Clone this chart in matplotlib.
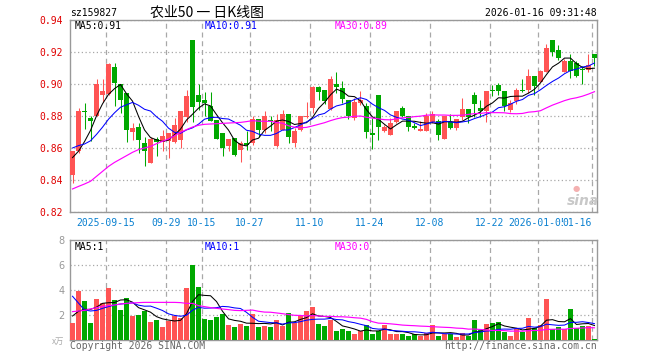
import numpy as np
import matplotlib
matplotlib.use('Agg')
import matplotlib.pyplot as plt

plt.rcParams['font.family'] = ['DejaVu Sans Mono', 'Noto Sans CJK SC']

# 日K数据 (2025-09-05 ~ 2026-01-16, 88 根)
opens = [0.843, 0.858, 0.883, 0.8785, 0.880, 0.893, 0.8935, 0.9105, 0.900, 0.8945,
         0.870, 0.873, 0.863, 0.8506, 0.8656, 0.8635, 0.8646, 0.8635, 0.865, 0.8794,
         0.9277, 0.8933, 0.8898, 0.8865, 0.8777, 0.8694, 0.861, 0.8663, 0.8585, 0.8631,
         0.8631, 0.8781, 0.8715, 0.8773, 0.8615, 0.8715, 0.8815, 0.8631, 0.8715, 0.8794,
         0.885, 0.8983, 0.8965, 0.8846, 0.9002, 0.8975, 0.8902, 0.8788, 0.8881, 0.8865,
         0.8694, 0.8933, 0.8708, 0.8683, 0.876, 0.885, 0.8798, 0.8735, 0.8708, 0.8708,
         0.876, 0.8767, 0.8658, 0.876, 0.8725, 0.8794, 0.8846, 0.8933, 0.885, 0.8829,
         0.8965, 0.8996, 0.8954, 0.884, 0.8892, 0.8965, 0.8965, 0.9052, 0.901, 0.9075,
         0.9277, 0.921, 0.9075, 0.9142, 0.9133, 0.9094, 0.9088, 0.9185]
highs = [0.858, 0.885, 0.888, 0.880, 0.903, 0.903, 0.913, 0.913, 0.900, 0.8945,
         0.8756, 0.8756, 0.867, 0.867, 0.867, 0.8715, 0.8694, 0.8785, 0.8833, 0.8965,
         0.9277, 0.900, 0.8948, 0.8948, 0.8777, 0.8694, 0.8658, 0.8663, 0.8646, 0.8708,
         0.8802, 0.8781, 0.8829, 0.8798, 0.8815, 0.8835, 0.8815, 0.8725, 0.880, 0.8885,
         0.8985, 0.8985, 0.8965, 0.9048, 0.9075, 0.9017, 0.8902, 0.8913, 0.8954, 0.888,
         0.8788, 0.8933, 0.8746, 0.8788, 0.8829, 0.886, 0.8802, 0.8756, 0.8767, 0.8819,
         0.8829, 0.8781, 0.8802, 0.8815, 0.8781, 0.8913, 0.8846, 0.8948, 0.8898, 0.8954,
         0.8996, 0.9006, 0.8954, 0.8902, 0.8975, 0.9031, 0.9094, 0.9052, 0.909, 0.9248,
         0.9277, 0.9246, 0.9156, 0.9185, 0.9146, 0.911, 0.9185, 0.9185]
lows = [0.838, 0.857, 0.872, 0.8645, 0.880, 0.889, 0.893, 0.886, 0.882, 0.864,
        0.865, 0.857, 0.849, 0.8506, 0.855, 0.858, 0.854, 0.863, 0.860, 0.876,
        0.876, 0.884, 0.880, 0.8767, 0.8658, 0.855, 0.858, 0.855, 0.851, 0.859,
        0.862, 0.867, 0.8694, 0.8704, 0.8606, 0.8715, 0.863, 0.8604, 0.8704, 0.879,
        0.882, 0.8898, 0.8877, 0.884, 0.8944, 0.888, 0.878, 0.8777, 0.887, 0.8663,
        0.8594, 0.865, 0.870, 0.8683, 0.8756, 0.8794, 0.8704, 0.872, 0.8704, 0.8704,
        0.8756, 0.865, 0.8658, 0.872, 0.8715, 0.8777, 0.8756, 0.8794, 0.8794, 0.876,
        0.8923, 0.8933, 0.883, 0.8823, 0.8877, 0.8948, 0.8944, 0.8933, 0.901, 0.9075,
        0.9177, 0.915, 0.9075, 0.9038, 0.9044, 0.900, 0.9075, 0.911]
closes = [0.858, 0.883, 0.8825, 0.877, 0.900, 0.8955, 0.9125, 0.9005, 0.890, 0.871,
          0.8727, 0.865, 0.858, 0.8658, 0.864, 0.8677, 0.8694, 0.8746, 0.8833, 0.8927,
          0.8854, 0.8885, 0.8881, 0.8767, 0.8658, 0.8598, 0.8658, 0.8558, 0.8631, 0.862,
          0.8781, 0.8715, 0.8802, 0.8767, 0.8777, 0.8815, 0.8667, 0.8708, 0.8798, 0.8802,
          0.8979, 0.895, 0.8896, 0.9033, 0.8981, 0.8906, 0.8802, 0.8885, 0.8902, 0.8698,
          0.8683, 0.8729, 0.8729, 0.8756, 0.8829, 0.8798, 0.8729, 0.8725, 0.8719, 0.8802,
          0.8815, 0.8683, 0.8802, 0.8725, 0.8781, 0.8846, 0.8794, 0.8877, 0.8833, 0.8954,
          0.8954, 0.8954, 0.8865, 0.8881, 0.8965, 0.8956, 0.9048, 0.8985, 0.9079, 0.9227,
          0.9198, 0.9163, 0.9142, 0.908, 0.905, 0.9085, 0.9117, 0.9165]

ma5 = [0.854, 0.858, 0.864, 0.871, 0.8801, 0.8876, 0.8935, 0.8971, 0.8997, 0.8939,
       0.8893, 0.8798, 0.8713, 0.8665, 0.8651, 0.8641, 0.865, 0.8683, 0.8718, 0.8775,
       0.8811, 0.8849, 0.8876, 0.8863, 0.8809, 0.8758, 0.8712, 0.8648, 0.8621, 0.8613,
       0.865, 0.8661, 0.871, 0.8737, 0.8768, 0.8775, 0.8766, 0.8747, 0.8753, 0.8758,
       0.8791, 0.8847, 0.8885, 0.8932, 0.8968, 0.8953, 0.8924, 0.8921, 0.8895, 0.8839,
       0.8794, 0.8779, 0.8748, 0.8719, 0.8745, 0.8768, 0.8768, 0.8767, 0.876, 0.8755,
       0.8758, 0.8749, 0.8764, 0.8765, 0.8761, 0.8767, 0.879, 0.8805, 0.8826, 0.8861,
       0.8882, 0.8914, 0.8912, 0.8922, 0.8924, 0.8924, 0.8943, 0.8967, 0.9007, 0.9059,
       0.9107, 0.913, 0.9162, 0.9162, 0.9127, 0.9104, 0.9095, 0.9099]
ma10 = [0.860, 0.8615, 0.8625, 0.8645, 0.8685, 0.873, 0.878, 0.882, 0.8855, 0.887,
        0.8885, 0.8867, 0.8842, 0.8831, 0.8795, 0.8767, 0.8724, 0.8698, 0.8692, 0.8713,
        0.8726, 0.8749, 0.878, 0.879, 0.8792, 0.8784, 0.8781, 0.8762, 0.8742, 0.8711,
        0.8704, 0.8687, 0.8679, 0.8679, 0.8691, 0.8712, 0.8713, 0.8728, 0.8745, 0.8763,
        0.8783, 0.8807, 0.8816, 0.8843, 0.8863, 0.8872, 0.8886, 0.8903, 0.8914, 0.8903,
        0.8874, 0.8852, 0.8835, 0.8807, 0.8792, 0.8781, 0.8774, 0.8758, 0.874, 0.875,
        0.8763, 0.8759, 0.8766, 0.8763, 0.8758, 0.8763, 0.8769, 0.8784, 0.8796, 0.8811,
        0.8825, 0.8852, 0.8858, 0.8874, 0.8892, 0.8903, 0.8929, 0.894, 0.8964, 0.8991,
        0.9016, 0.9037, 0.9064, 0.9084, 0.9093, 0.9106, 0.9113, 0.9131]
ma30 = [0.8344, 0.836, 0.8375, 0.8392, 0.8423, 0.8454, 0.8485, 0.851, 0.8531, 0.8552,
        0.8573, 0.859, 0.860, 0.861, 0.8627, 0.8642, 0.8656, 0.8677, 0.8698, 0.8715,
        0.8731, 0.8742, 0.8748, 0.875, 0.8752, 0.8754, 0.8756, 0.8758, 0.876, 0.8765,
        0.8771, 0.8768, 0.8767, 0.8767, 0.8759, 0.8755, 0.8739, 0.873, 0.8726, 0.8729,
        0.8738, 0.8748, 0.8758, 0.8771, 0.8782, 0.879, 0.8793, 0.8798, 0.88, 0.8792,
        0.8787, 0.8782, 0.8777, 0.8776, 0.8782, 0.8789, 0.8791, 0.8796, 0.8799, 0.8805,
        0.8807, 0.8806, 0.8806, 0.8804, 0.8804, 0.8805, 0.881, 0.8815, 0.8816, 0.8821,
        0.8821, 0.8821, 0.882, 0.8815, 0.8814, 0.8816, 0.8824, 0.8827, 0.8833, 0.8851,
        0.8868, 0.8882, 0.8896, 0.8907, 0.8914, 0.8924, 0.8937, 0.8952]

# 成交量
volumes = [1.39, 3.95, 3.12, 1.39, 3.28, 2.93, 4.19, 3.2, 2.4, 3.39,
           1.95, 2.0, 2.32, 1.47, 1.6, 1.07, 1.52, 1.95, 1.73, 4.19,
           6.0, 4.24, 1.68, 1.6, 1.87, 2.1, 1.2, 1.07, 1.25, 1.12,
           2.05, 1.07, 1.15, 1.04, 1.6, 1.15, 2.16, 1.33, 2.0, 2.32,
           2.67, 1.28, 1.15, 1.6, 0.72, 0.88, 0.72, 0.48, 0.75, 1.2,
           0.48, 0.72, 1.2, 0.48, 0.48, 0.48, 0.32, 0.45, 0.32, 0.53,
           1.2, 0.32, 0.45, 0.45, 0.24, 0.53, 0.32, 1.6, 0.8, 1.28,
           1.39, 1.47, 0.67, 0.32, 0.88, 0.67, 1.79, 0.99, 1.2, 3.28,
           0.88, 1.04, 0.88, 2.48, 0.93, 1.15, 1.15, 0.08]
vol_ma5 = [1.92, 2.3, 2.45, 2.45, 2.626, 2.934, 2.982, 2.998, 3.2, 3.222,
           3.026, 2.588, 2.412, 2.226, 1.868, 1.692, 1.596, 1.522, 1.574, 2.092,
           3.078, 3.622, 3.568, 3.542, 3.078, 2.298, 1.69, 1.568, 1.498, 1.348,
           1.338, 1.312, 1.328, 1.286, 1.382, 1.202, 1.42, 1.456, 1.648, 1.792,
           2.096, 1.92, 1.884, 1.804, 1.484, 1.126, 1.014, 0.88, 0.71, 0.806,
           0.726, 0.726, 0.87, 0.816, 0.672, 0.672, 0.592, 0.442, 0.41, 0.42,
           0.564, 0.564, 0.564, 0.59, 0.532, 0.398, 0.398, 0.628, 0.698, 0.906,
           1.078, 1.308, 1.122, 1.026, 0.946, 0.802, 0.866, 0.93, 1.106, 1.586,
           1.628, 1.478, 1.456, 1.712, 1.242, 1.296, 1.318, 1.158]
vol_ma10 = [3.5, 2.95, 2.4, 2.32, 2.37, 2.53, 2.67, 2.8, 2.88, 2.924,
            2.98, 2.785, 2.705, 2.713, 2.545, 2.359, 2.092, 1.967, 1.9, 1.98,
            2.385, 2.609, 2.545, 2.558, 2.585, 2.688, 2.656, 2.568, 2.52, 2.213,
            1.818, 1.501, 1.448, 1.392, 1.365, 1.27, 1.366, 1.392, 1.467, 1.587,
            1.649, 1.67, 1.67, 1.726, 1.638, 1.611, 1.467, 1.382, 1.257, 1.145,
            0.926, 0.87, 0.875, 0.763, 0.739, 0.699, 0.659, 0.656, 0.613, 0.546,
            0.618, 0.578, 0.503, 0.5, 0.476, 0.481, 0.481, 0.596, 0.644, 0.719,
            0.738, 0.853, 0.875, 0.862, 0.926, 0.94, 1.087, 1.026, 1.066, 1.266,
            1.215, 1.172, 1.193, 1.409, 1.414, 1.462, 1.398, 1.307]
vol_ma30 = [2.27, 2.32, 2.37, 2.48, 2.59, 2.69, 2.75, 2.8, 2.88, 2.93,
            2.96, 2.99, 3.01, 3.01, 3.01, 3.01, 3.01, 3.01, 2.99, 2.93,
            2.93, 2.75, 2.67, 2.59, 2.53, 2.48, 2.43, 2.37, 2.35, 2.372,
            2.394, 2.298, 2.233, 2.221, 2.165, 2.106, 2.038, 1.976, 1.962, 1.927,
            1.951, 1.927, 1.888, 1.892, 1.863, 1.856, 1.83, 1.781, 1.748, 1.648,
            1.464, 1.347, 1.331, 1.294, 1.247, 1.193, 1.164, 1.143, 1.112, 1.093,
            1.064, 1.039, 1.016, 0.996, 0.951, 0.93, 0.869, 0.878, 0.838, 0.803,
            0.761, 0.767, 0.751, 0.708, 0.714, 0.707, 0.742, 0.759, 0.774, 0.844,
            0.857, 0.868, 0.857, 0.924, 0.939, 0.961, 0.989, 0.976]

# 日期刻度 (K线序号 -> 标签)
tick_idx = [6, 16, 22, 30, 40, 50, 60, 70, 78, 87]
tick_labels = ['2025-09-15', '09-29', '10-15', '10-27', '11-10', '11-24',
               '12-08', '12-22', '2026-01-05', '01-16']
price_ticks = [0.82, 0.84, 0.86, 0.88, 0.90, 0.92, 0.94]
vol_ticks = [2, 4, 6, 8]

RED = '#ff5454'
GREEN = '#00a800'
GRID = '#a8a8a8'
W, H = 660, 360


def px(x, y):
    return x / W, 1 - y / H


fig = plt.figure(figsize=(6.6, 3.6), dpi=100)
fig.patch.set_facecolor('white')

ax = fig.add_axes([70 / W, 1 - 212 / H, 527 / W, 192 / H])
axv = fig.add_axes([70 / W, 1 - 340 / H, 527 / W, 100 / H])

x = np.arange(len(closes))
o = np.array(opens)
c = np.array(closes)
up = c >= o
colors = np.where(up, RED, GREEN)

# K线
ax.vlines(x, lows, highs, colors=colors, lw=0.75, zorder=3)
body_lo = np.minimum(o, c)
body_h = np.maximum(np.abs(c - o), 0.0004)
ax.bar(x, body_h, bottom=body_lo, width=0.83, color=colors, linewidth=0, zorder=4)

ax.plot(x, ma5, color='black', lw=0.75, zorder=5)
ax.plot(x, ma10, color='#0000ff', lw=0.75, zorder=5)
ax.plot(x, ma30, color='#ff00ff', lw=0.85, zorder=5)

# 成交量
axv.bar(x, volumes, width=0.83, color=colors, linewidth=0, zorder=3)
axv.plot(x, vol_ma5, color='black', lw=0.75, zorder=5)
axv.plot(x, vol_ma10, color='#0000ff', lw=0.75, zorder=5)
axv.plot(x, vol_ma30, color='#ff00ff', lw=0.85, zorder=5)

xt = [i - 0.42 for i in tick_idx]
for a in (ax, axv):
    a.set_xlim(-0.42, 87.42)
    a.set_xticks(xt)
    for s in a.spines.values():
        s.set_color('#999999')
        s.set_linewidth(1.0)
    a.grid(axis='x', color=GRID, linestyle=(0, (4, 3)), lw=0.9, zorder=1)
    a.grid(axis='y', color=GRID, linestyle=(0, (1, 2)), lw=0.9, zorder=1)
    a.tick_params(length=0)
    a.set_axisbelow(True)

ax.set_ylim(0.82, 0.94)
ax.set_yticks(price_ticks)
ax.set_yticklabels(['%.2f' % p for p in price_ticks], color='#e00000', fontsize=7)
ax.set_xticklabels(tick_labels, color='#0a80d0', fontsize=7)
ax.tick_params(axis='x', pad=4)
ax.tick_params(axis='y', pad=5)
last = ax.get_xticklabels()[-1]
last.set_ha('right')
last.set_bbox(dict(facecolor='white', edgecolor='none', pad=0))

axv.set_ylim(0, 8)
axv.set_yticks(vol_ticks)
axv.set_yticklabels([str(v) for v in vol_ticks], color='#999999', fontsize=7,
                    family='DejaVu Sans')
axv.tick_params(axis='y', pad=4)
axv.set_xticklabels([])

# 文字
fig.text(*px(70, 13), 'sz159827', fontsize=7, va='center', ha='left')
fig.text(*px(150, 13), '农业50 一 日K线图', fontsize=10, va='center', ha='left',
         family=['Noto Sans CJK SC', 'DejaVu Sans'])
fig.text(*px(597, 13), '2026-01-16 09:31:48', fontsize=7, va='center', ha='right')

fig.text(*px(75, 26), 'MA5:0.91', fontsize=7, va='center', color='black')
fig.text(*px(205, 26), 'MA10:0.91', fontsize=7, va='center', color='#0000ff')
fig.text(*px(335, 26), 'MA30:0.89', fontsize=7, va='center', color='#ff00ff')

fig.text(*px(75, 247), 'MA5:1', fontsize=7, va='center', color='black')
fig.text(*px(205, 247), 'MA10:1', fontsize=7, va='center', color='#0000ff')
fig.text(*px(335, 247), 'MA30:0', fontsize=7, va='center', color='#ff00ff')

fig.text(*px(70, 346), 'Copyright 2026 SINA.COM', fontsize=7, va='center', color='#666666')
fig.text(*px(597, 346), 'http://finance.sina.com.cn', fontsize=7, va='center',
         ha='right', color='#666666')
fig.text(*px(64, 341), 'x万', fontsize=6, va='center', ha='right', color='#aaaaaa',
         family=['Noto Sans CJK SC', 'DejaVu Sans'])

# sina 水印
fig.text(*px(583, 201), 'sina', fontsize=10, va='center', ha='center', color='#c8c8c8',
         style='italic', weight='bold', family='DejaVu Sans')
fig.text(*px(576, 189), '●', fontsize=6, va='center', ha='center', color='#f4b0b0',
         family='DejaVu Sans')

fig.savefig('out.png', dpi=100)
